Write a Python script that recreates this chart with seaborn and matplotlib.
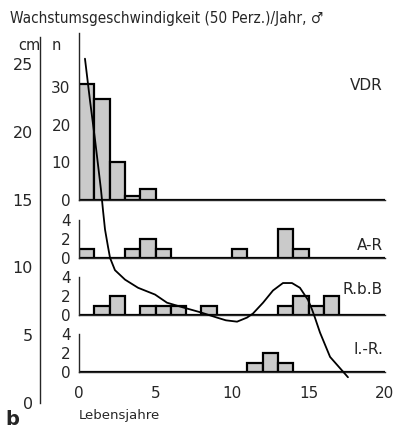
import seaborn as sns
import matplotlib.pyplot as plt
import pandas as pd

sns.set_style("white")
plt.rcParams['font.family'] = ['DejaVu Sans']

# age bins (left edge, years) and counts per panel
vdr_ages = [0, 1, 2, 3, 4]
vdr_counts = [31, 27, 10, 1, 3]
ar_ages = [0, 3, 4, 5, 10, 13, 14]
ar_counts = [1, 1, 2, 1, 1, 3, 1]
rbb_ages = [1, 2, 4, 5, 6, 8, 13, 14, 15, 16]
rbb_counts = [1, 2, 1, 1, 1, 1, 1, 2, 1, 2]
ir_ages = [11, 12, 13]
ir_counts = [1, 2, 1]

# growth velocity curve (cm/year) vs age
curve_age = [0.39, 0.72, 1.05, 1.44, 1.57, 1.70, 1.90, 2.03, 2.35, 3.01, 3.86,
             4.97, 5.75, 6.80, 7.91, 9.02, 9.60, 10.33, 10.98, 11.37, 12.03,
             12.68, 13.33, 13.92, 14.44, 14.97, 15.23, 15.42, 15.75, 16.41, 17.58]
curve_cm = [25.4, 22.3, 19.4, 15.7, 14.2, 12.8, 11.5, 10.7, 9.8, 9.1, 8.5,
            8.0, 7.4, 7.05, 6.7, 6.3, 6.1, 6.0, 6.3, 6.6, 7.4,
            8.3, 8.85, 8.85, 8.5, 7.6, 6.9, 6.3, 5.2, 3.4, 1.9]

panels = [("VDR", vdr_ages, vdr_counts, [0, 10, 20, 30], 44.5),
          ("A-R", ar_ages, ar_counts, [0, 2, 4], 4),
          ("R.b.B", rbb_ages, rbb_counts, [0, 2, 4], 4),
          ("I.-R.", ir_ages, ir_counts, [0, 2, 4], 4)]
# pixel geometry (bottom, top) of each panel
panel_px = [(200, 33), (258, 220), (315, 277), (372, 334)]

W, H = 401, 430
fig = plt.figure(figsize=(W / 100, H / 100), dpi=100)
x0, x1 = 79, 385
label_pos = [(383, 85), (383, 246), (383, 290), (383, 350)]

for i, ((name, ages, counts, yt, ytop), (pb, pt)) in enumerate(zip(panels, panel_px)):
    ax = fig.add_axes([x0 / W, (H - pb) / H, (x1 - x0) / W, (pb - pt) / H])
    ax.patch.set_visible(False)
    df = pd.DataFrame({"age": [a + 0.5 for a in ages], "n": counts})
    sns.histplot(data=df, x="age", weights="n", bins=list(range(21)), ax=ax,
                 color="#cacaca", edgecolor="black", linewidth=1.6, alpha=1)
    ax.set_xlim(0, 20)
    ax.set_ylim(0, ytop)
    ax.set_yticks(yt)
    ax.set_ylabel("")
    ax.set_xlabel("")
    for s in ["top", "right"]:
        ax.spines[s].set_visible(False)
    ax.spines["left"].set_linewidth(1.0)
    ax.spines["bottom"].set_linewidth(1.0)
    ax.tick_params(axis="y", direction="out", length=4, width=1, labelsize=11, pad=2)
    if i == 3:
        ax.set_xticks([0, 5, 10, 15, 20])
        ax.tick_params(axis="x", direction="out", length=5, width=1, labelsize=11, pad=5)
    else:
        ax.set_xticks([])
    lx, ly = label_pos[i]
    fig.text(lx / W, 1 - ly / H, name, ha="right", va="center", fontsize=11)

# curve axes with the outer cm scale
cax = fig.add_axes([x0 / W, (H - 403) / H, (x1 - x0) / W, (403 - 37) / H], zorder=5)
cax.patch.set_visible(False)
sns.lineplot(x=curve_age, y=curve_cm, ax=cax, color="black", linewidth=1.3, sort=False)
cax.set_xlim(0, 20)
cax.set_ylim(0, 27)
cax.set_xticks([])
cax.set_yticks([0, 5, 10, 15, 20, 25])
cax.set_xlabel("")
cax.set_ylabel("")
for s in ["top", "right", "bottom"]:
    cax.spines[s].set_visible(False)
cax.spines["left"].set_position(("outward", 39 * 0.72))
cax.spines["left"].set_linewidth(1.0)
cax.tick_params(axis="y", direction="out", length=4, width=1, labelsize=11.5, pad=1)

fig.text(10 / W, 1 - 18 / H, "Wachstumsgeschwindigkeit (50 Perz.)/Jahr, \u2642",
         ha="left", va="center", fontsize=11, fontstretch="condensed")
fig.text(29 / W, 1 - 45 / H, "cm", ha="center", va="center", fontsize=10.5)
fig.text(56 / W, 1 - 45 / H, "n", ha="center", va="center", fontsize=10.5)
fig.text(79 / W, 1 - 416 / H, "Lebensjahre", ha="left", va="center", fontsize=9.5)
fig.text(5 / W, 0.002, "b", ha="left", va="bottom", fontsize=14, fontweight="bold")

fig.savefig("out.png", dpi=100)
plt.close(fig)
